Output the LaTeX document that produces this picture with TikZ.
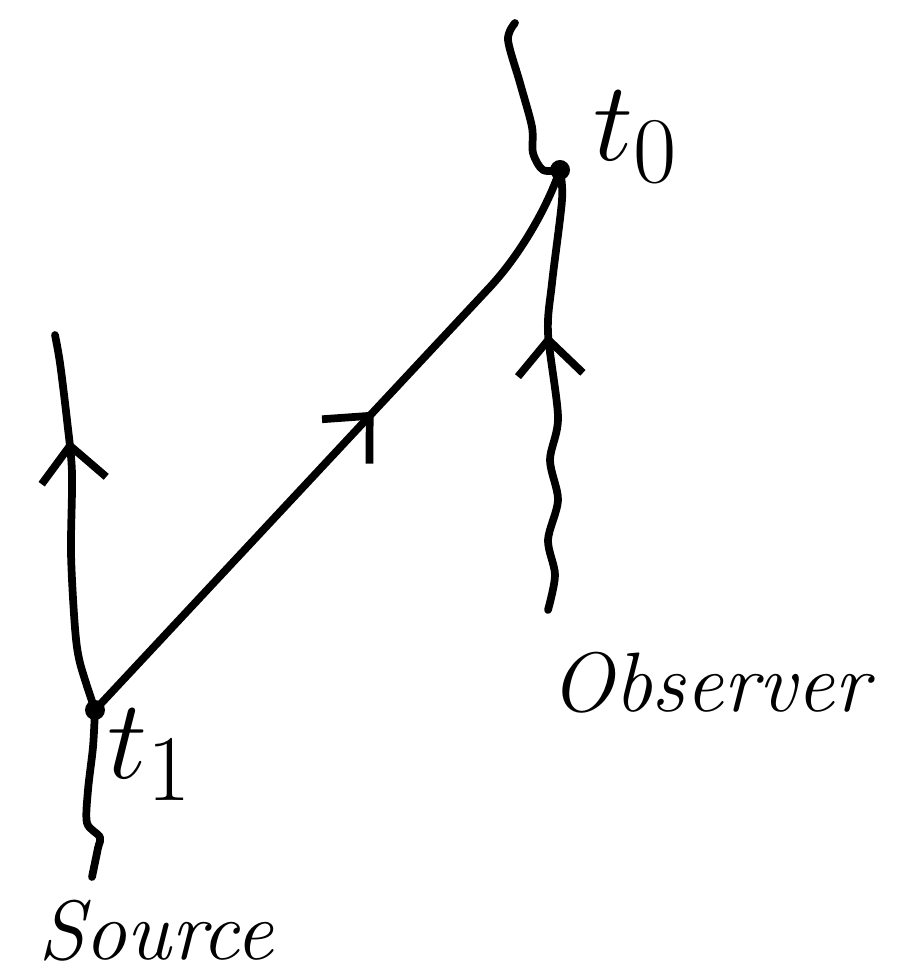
\documentclass[tikz,border=0pt]{standalone}
\usetikzlibrary{arrows.meta,decorations.markings}

\begin{document}
\begin{tikzpicture}[line width=2.2pt, line cap=round, line join=round,
  event/.style={circle, fill, inner sep=0pt, minimum size=2mm},
  flow/.style={postaction={decorate}, decoration={markings,
    mark=at position #1 with {\arrow{Straight Barb[length=3.5mm, width=6.5mm, line width=2.2pt]}}}},
  lbl/.style={font=\fontsize{24}{29}\selectfont\itshape, inner sep=1pt},
  evlbl/.style={font=\Huge, scale=1.29, transform shape}]
\useasboundingbox (0,0) rectangle (9.11,9.73);
\node[event] (t1) at (0.95,2.63) {};
\node[event] (t0) at (5.60,8.03) {};
\coordinate (srcbot) at (0.92,0.96);
\coordinate (srctop) at (0.55,6.38);
\coordinate (obsbot) at (5.48,3.63);
\coordinate (obstop) at (5.15,9.50);
% source worldline
\draw plot[smooth] coordinates {(srcbot) (0.98,1.25) (1.00,1.36) (0.87,1.50) (0.88,1.83) (0.93,2.26) (t1.center)};
\draw[flow=0.72] plot[smooth] coordinates {(t1.center) (0.80,3.10) (0.75,3.45) (0.71,4.20) (0.72,5.00) (0.67,5.53) (0.60,6.10) (srctop)};
% observer worldline
\draw[flow=0.63] plot[smooth] coordinates {(obsbot) (5.55,3.98) (5.48,4.33) (5.58,4.73) (5.50,5.13) (5.58,5.56) (5.48,6.40) (5.52,6.90) (5.62,7.73) (t0.center)};
\draw plot[smooth] coordinates {(t0.center) (5.43,8.03) (5.33,8.20) (5.32,8.46) (5.20,8.90) (5.08,9.33) (obstop)};
% light ray
\draw[flow=0.57] (t1.center) -- (4.90,6.86) .. controls (5.17,7.15) and (5.45,7.60) .. (t0.center);
\node[evlbl] (t0lbl) at (6.36,8.36) {$t_0$};
\node[evlbl] (t1lbl) at (1.50,2.18) {$t_1$};
\node[lbl] (obslbl) at (7.10,2.90) {Observer};
\node[lbl] (srclbl) at (1.56,0.42) {Source};
\end{tikzpicture}
\end{document}
